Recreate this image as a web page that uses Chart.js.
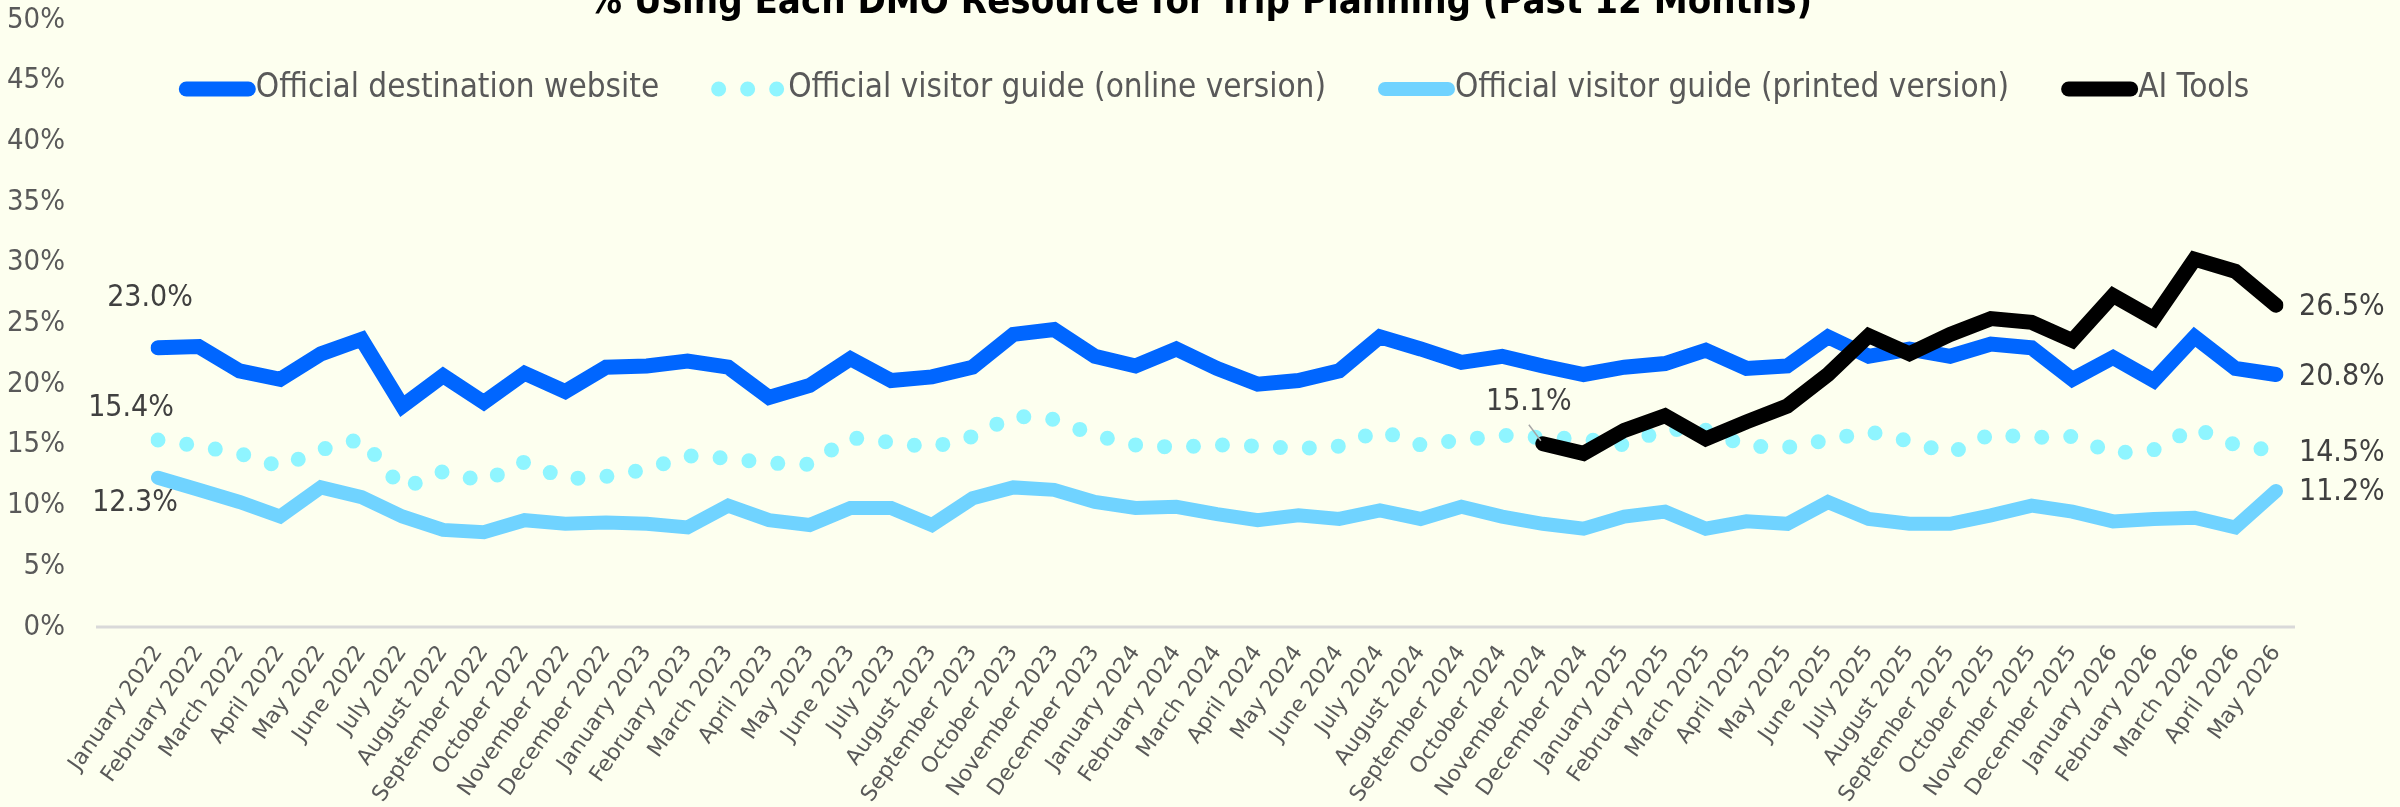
<!DOCTYPE html>
<html>
<head>
<meta charset="utf-8">
<script src="https://cdn.jsdelivr.net/npm/chart.js@4.4.1/dist/chart.umd.min.js"></script>
<style>
  body { margin: 0; background: #fdffef; }
  #chart-box { width: 2400px; height: 807px; }
</style>
</head>
<body>
<div id="chart-box"><canvas id="dmo-chart" width="2400" height="807"></canvas></div>
<script>
// Months on the x axis
const months = [
    'January 2022', 'February 2022', 'March 2022', 'April 2022', 'May 2022', 'June 2022',
    'July 2022', 'August 2022', 'September 2022', 'October 2022', 'November 2022', 'December 2022',
    'January 2023', 'February 2023', 'March 2023', 'April 2023', 'May 2023', 'June 2023',
    'July 2023', 'August 2023', 'September 2023', 'October 2023', 'November 2023', 'December 2023',
    'January 2024', 'February 2024', 'March 2024', 'April 2024', 'May 2024', 'June 2024',
    'July 2024', 'August 2024', 'September 2024', 'October 2024', 'November 2024', 'December 2024',
    'January 2025', 'February 2025', 'March 2025', 'April 2025', 'May 2025', 'June 2025',
    'July 2025', 'August 2025', 'September 2025', 'October 2025', 'November 2025', 'December 2025',
    'January 2026', 'February 2026', 'March 2026', 'April 2026', 'May 2026'
];

// % using each resource
const websiteValues = [
    23.0, 23.1, 21.1, 20.4, 22.5, 23.7, 18.2, 20.7, 18.5, 20.9, 19.4, 21.4,
    21.5, 21.9, 21.4, 18.9, 19.9, 22.1, 20.3, 20.6, 21.4, 24.1, 24.5, 22.3,
    21.5, 22.9, 21.3, 20.0, 20.3, 21.1, 23.9, 22.9, 21.8, 22.3, 21.5, 20.8,
    21.4, 21.7, 22.8, 21.3, 21.5, 23.9, 22.3, 22.9, 22.3, 23.3, 23.0, 20.4,
    22.2, 20.3, 23.9, 21.3, 20.8
];
const onlineGuideValues = [
    15.4, 14.9, 14.3, 13.2, 14.6, 15.5, 11.4, 12.8, 12.0, 13.6, 12.2, 12.4,
    13.0, 14.1, 13.9, 13.5, 13.4, 15.6, 15.2, 14.8, 15.7, 17.4, 17.1, 15.8,
    15.0, 14.8, 15.0, 14.9, 14.7, 14.9, 16.2, 15.0, 15.4, 15.8, 15.6, 15.5,
    15.0, 16.3, 16.2, 14.9, 14.8, 15.4, 16.1, 15.3, 14.3, 15.9, 15.6, 15.7,
    14.3, 14.6, 16.4, 15.0, 14.5
];
const printedGuideValues = [
    12.3, 11.3, 10.3, 9.1, 11.5, 10.7, 9.1, 8.0, 7.8, 8.8, 8.5, 8.6,
    8.5, 8.2, 10.0, 8.8, 8.4, 9.8, 9.8, 8.4, 10.6, 11.5, 11.3, 10.3,
    9.8, 9.9, 9.3, 8.8, 9.2, 8.9, 9.6, 8.9, 9.9, 9.1, 8.5, 8.1,
    9.1, 9.5, 8.1, 8.7, 8.5, 10.3, 8.9, 8.5, 8.5, 9.2, 10.0, 9.5,
    8.7, 8.9, 9.0, 8.2, 11.2
];
// AI tools only tracked from November 2024
const aiMonths = months.slice(months.indexOf('November 2024'));
const aiValues = [
    15.1, 14.3, 16.2, 17.4, 15.5, 16.9, 18.2, 20.8, 24.0, 22.5,
    24.1, 25.4, 25.1, 23.6, 27.3, 25.4, 30.3, 29.3, 26.5
];

const yTicks = [0, 5, 10, 15, 20, 25, 30, 35, 40, 45, 50];

const chartTitle = '% Using Each DMO Resource for Trip Planning (Past 12 Months)';
const condensed = "'DejaVu Sans Condensed', 'Liberation Sans Narrow', 'Roboto Condensed', sans-serif";
const bgColor = '#fdffef';

// Labels on first / last points: [dataset, index, dx, dy, align, leader]
const pointLabels = [
    [0, 0, -8, -50, 'center', false],
    [1, 0, -27, -32, 'center', false],
    [2, 0, -23, 26, 'center', false],
    [3, 0, -14, -41, 'center', true],
    [0, 52, 23, 3, 'left', false],
    [1, 52, 23, 2, 'left', false],
    [2, 52, 23, 1, 'left', false],
    [3, 18, 23, 2, 'left', false]
];

const backgroundPlugin = {
    id: 'background',
    beforeDraw(chart) {
        const ctx = chart.ctx;
        ctx.save();
        ctx.fillStyle = bgColor;
        ctx.fillRect(0, 0, chart.width, chart.height);
        ctx.restore();
    }
};

// Grey baseline at 0%, a bit wider than the plotted months
const baselinePlugin = {
    id: 'baseline',
    beforeDatasetsDraw(chart) {
        const ctx = chart.ctx;
        const area = chart.chartArea;
        const y = chart.scales.y.getPixelForValue(0);
        ctx.save();
        ctx.strokeStyle = '#d9d9d9';
        ctx.lineWidth = 3;
        ctx.beginPath();
        ctx.moveTo(area.left - 62, y);
        ctx.lineTo(area.right + 19, y);
        ctx.stroke();
        ctx.restore();
    }
};

// Title (clipped at the top) and a legend that sits inside the plot
const headerPlugin = {
    id: 'header',
    afterDraw(chart) {
        const ctx = chart.ctx;
        const area = chart.chartArea;
        ctx.save();
        ctx.fillStyle = '#000000';
        ctx.font = 'bold 38px ' + condensed;
        ctx.textAlign = 'center';
        ctx.textBaseline = 'alphabetic';
        ctx.fillText(chartTitle, chart.width / 2, 13);

        const sample = 77, gap = 52, legendY = 89;
        ctx.font = '33px ' + condensed;
        const sets = chart.data.datasets;
        const widths = sets.map(ds => sample + ctx.measureText(ds.label).width);
        const total = widths.reduce((a, b) => a + b, 0) + gap * (sets.length - 1);
        let x = (area.left + area.right) / 2 - 3 - total / 2;
        sets.forEach(function (ds, i) {
            const half = ds.borderWidth / 2;
            ctx.strokeStyle = ds.borderColor;
            ctx.lineWidth = ds.borderWidth;
            ctx.lineCap = 'round';
            ctx.setLineDash(ds.borderDash || []);
            ctx.beginPath();
            ctx.moveTo(x + half, legendY);
            ctx.lineTo(x + sample - half, legendY);
            ctx.stroke();
            ctx.setLineDash([]);
            ctx.fillStyle = '#595959';
            ctx.textAlign = 'left';
            ctx.textBaseline = 'middle';
            ctx.fillText(ds.label, x + sample, legendY - 1);
            x += widths[i] + gap;
        });
        ctx.restore();
    }
};

const pointLabelPlugin = {
    id: 'pointLabels',
    afterDatasetsDraw(chart) {
        const ctx = chart.ctx;
        ctx.save();
        ctx.font = '30px ' + condensed;
        ctx.fillStyle = '#404040';
        ctx.textBaseline = 'middle';
        pointLabels.forEach(function (item) {
            const [ds, idx, dx, dy, align, leader] = item;
            const el = chart.getDatasetMeta(ds).data[idx];
            const raw = chart.data.datasets[ds].data[idx];
            const value = typeof raw === 'object' ? raw.y : raw;
            ctx.textAlign = align;
            ctx.fillText(value.toFixed(1) + '%', el.x + dx, el.y + dy);
            if (leader) {
                ctx.strokeStyle = '#a6a6a6';
                ctx.lineWidth = 1.5;
                ctx.beginPath();
                ctx.moveTo(el.x + dx, el.y + dy + 22);
                ctx.lineTo(el.x - 2, el.y - 3);
                ctx.stroke();
            }
        });
        ctx.restore();
    }
};

const ctx = document.querySelector('#dmo-chart').getContext('2d');

const dmoChart = new Chart(ctx, {
    type: 'line',
    data: {
        labels: months,
        datasets: [
            {
                label: 'Official destination website',
                data: websiteValues,
                borderColor: '#0066ff',
                backgroundColor: '#0066ff',
                borderWidth: 15,
                borderCapStyle: 'round',
                pointRadius: 0,
                order: 1
            },
            {
                label: 'Official visitor guide (online version)',
                data: onlineGuideValues,
                borderColor: '#8ff5ff',
                backgroundColor: '#8ff5ff',
                borderWidth: 15,
                borderCapStyle: 'round',
                borderDash: [0, 29],
                pointRadius: 0,
                order: 2
            },
            {
                label: 'Official visitor guide (printed version)',
                data: printedGuideValues,
                borderColor: '#70d3ff',
                backgroundColor: '#70d3ff',
                borderWidth: 14,
                borderCapStyle: 'round',
                pointRadius: 0,
                order: 3
            },
            {
                label: 'AI Tools',
                data: aiMonths.map((m, i) => ({ x: m, y: aiValues[i] })),
                borderColor: '#000000',
                backgroundColor: '#000000',
                borderWidth: 15,
                borderCapStyle: 'round',
                pointRadius: 0,
                order: 0
            }
        ]
    },
    options: {
        responsive: false,
        animation: false,
        devicePixelRatio: 1,
        layout: {
            padding: { left: 0, right: 124, top: 20, bottom: 0 }
        },
        plugins: {
            title: { display: false },
            legend: { display: false },
            tooltip: { enabled: false }
        },
        scales: {
            x: {
                grid: { display: false, drawTicks: false },
                border: { display: false },
                ticks: {
                    autoSkip: false,
                    minRotation: 55,
                    maxRotation: 55,
                    padding: 14,
                    color: '#595959',
                    font: { family: "'DejaVu Sans', sans-serif", size: 22 }
                },
                afterFit: scale => { scale.height = 180; }
            },
            y: {
                min: 0,
                max: 50,
                // hidden tick marks keep the labels away from the plot
                grid: { display: false, drawTicks: true, tickLength: 93 },
                border: { display: false },
                afterBuildTicks: scale => { scale.ticks = yTicks.map(v => ({ value: v })); },
                ticks: {
                    padding: 0,
                    color: '#595959',
                    font: { family: condensed, size: 29 },
                    callback: value => value + '%'
                },
                afterFit: scale => { scale.width = 158; }
            }
        }
    },
    plugins: [backgroundPlugin, baselinePlugin, pointLabelPlugin, headerPlugin]
});
</script>
</body>
</html>
